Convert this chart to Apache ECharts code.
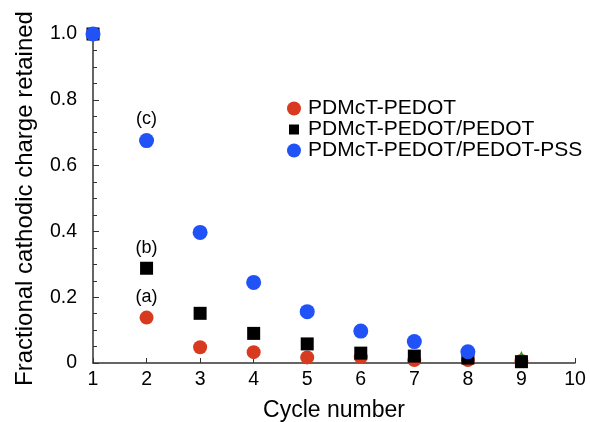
<!DOCTYPE html>
<html>
<head>
<meta charset="utf-8">
<script src="https://cdn.jsdelivr.net/npm/echarts@6/dist/echarts.min.js"></script>
<style>
  html, body { margin: 0; padding: 0; background: #fff; }
  #chart { width: 590px; height: 422px; }
</style>
</head>
<body>
<div id="chart"></div>
<script>
// Charge retention per cycle for the three film types
const cycles = [1, 2, 3, 4, 5, 6, 7, 8, 9];
const pedot = [1.0, 0.138, 0.048, 0.033, 0.017, 0.018, 0.009, 0.009, 0.006];
const pedotPedot = [1.0, 0.288, 0.151, 0.09, 0.058, 0.03, 0.021, 0.015, 0.004];
const pedotPss = [1.0, 0.676, 0.397, 0.245, 0.156, 0.097, 0.065, 0.034];
const extraCycles = [9];
const extraValues = [0.021];
const seriesNames = ['PDMcT-PEDOT', 'PDMcT-PEDOT/PEDOT', 'PDMcT-PEDOT/PEDOT-PSS'];
const curveTags = ['(a)', '(b)', '(c)'];

const FONT = 'Liberation Sans, Arial, Helvetica, sans-serif';
const INK = '#000';
const AXIS = '#333';

// label the cycle-2 point of each series with its curve tag
function pairs(xs, ys, tag) {
  return ys.map((v, i) => {
    const item = { value: [xs[i], v] };
    if (xs[i] === 2) {
      item.label = {
        show: true, position: 'top', distance: 5,
        formatter: tag, color: INK, fontSize: 18, fontFamily: FONT
      };
    }
    return item;
  });
}

// smaller square for the legend, padded out to the circle's box
const smallSquare = 'path://M0,0L0,0M14,14L14,14M2,2H12V12H2Z';

const chart = echarts.init(document.getElementById('chart'));
chart.setOption({
  animation: false,
  backgroundColor: '#fff',
  grid: { left: 93, right: 15, top: 34, bottom: 59, outerBoundsMode: 'none', containLabel: false },
  legend: {
    data: [
      { name: seriesNames[0], icon: 'circle' },
      { name: seriesNames[1], icon: smallSquare },
      { name: seriesNames[2], icon: 'circle' }
    ],
    orient: 'vertical',
    left: 287, top: 98, padding: 0,
    itemWidth: 18, itemHeight: 14, itemGap: 0,
    textStyle: { fontSize: 21, lineHeight: 20.5, fontFamily: FONT, color: INK }
  },
  xAxis: {
    type: 'value', min: 1, max: 10, interval: 1,
    name: 'Cycle number', nameLocation: 'middle', nameGap: 36,
    nameTextStyle: { fontSize: 23, fontFamily: FONT, color: INK },
    axisLine: { show: true, lineStyle: { color: AXIS, width: 1.5 } },
    axisTick: { show: true, inside: true, length: 5, lineStyle: { color: AXIS } },
    axisLabel: { fontSize: 19.5, fontFamily: FONT, color: INK, margin: 7 },
    splitLine: { show: false }
  },
  yAxis: {
    type: 'value', min: 0, max: 1, interval: 0.2,
    name: 'Fractional cathodic charge retained', nameLocation: 'middle', nameGap: 56,
    nameTextStyle: { fontSize: 24, fontFamily: FONT, color: INK },
    axisLine: { show: true, lineStyle: { color: AXIS, width: 1.5 } },
    axisTick: { show: true, inside: true, length: 6, lineStyle: { color: AXIS } },
    minorTick: { show: true, splitNumber: 4, length: 4, lineStyle: { color: AXIS } },
    axisLabel: {
      fontSize: 19.5, fontFamily: FONT, color: INK, margin: 16,
      formatter: v => (v === 0 ? '0' : v.toFixed(1))
    },
    splitLine: { show: false }
  },
  series: [
    {
      name: seriesNames[0], type: 'scatter', symbol: 'circle', symbolSize: 14,
      itemStyle: { color: '#d83a20', opacity: 1 },
      data: pairs(cycles, pedot, curveTags[0]), z: 2
    },
    {
      name: 'marker', type: 'scatter', symbol: 'triangle', symbolSize: 10,
      itemStyle: { color: '#4a8a2a', opacity: 1 },
      data: extraValues.map((v, i) => [extraCycles[i], v]), z: 2
    },
    {
      name: seriesNames[1], type: 'scatter', symbol: 'rect', symbolSize: 13,
      itemStyle: { color: '#000', opacity: 1 },
      data: pairs(cycles, pedotPedot, curveTags[1]), z: 3
    },
    {
      name: seriesNames[2], type: 'scatter', symbol: 'circle', symbolSize: 15,
      itemStyle: { color: '#2152f7', opacity: 1 },
      data: pairs(cycles, pedotPss, curveTags[2]), z: 4
    }
  ]
});
</script>
</body>
</html>
